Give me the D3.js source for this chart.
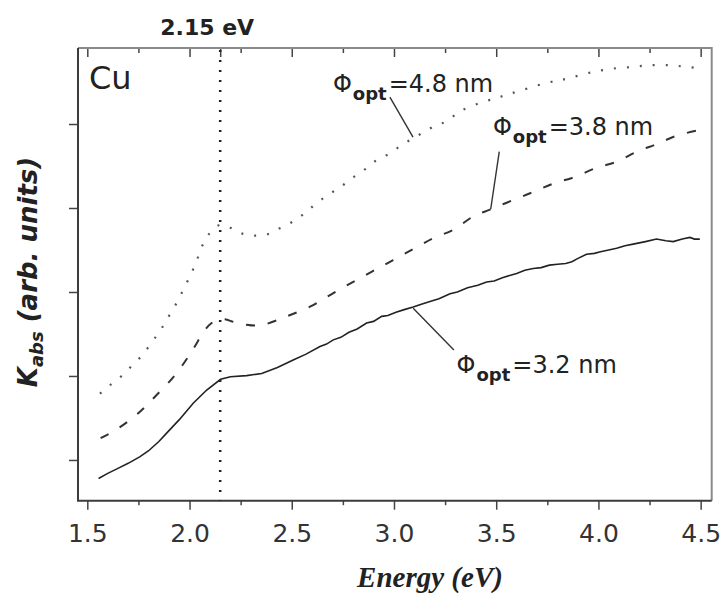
<!DOCTYPE html>
<html>
<head>
<meta charset="utf-8">
<script src="https://cdn.jsdelivr.net/npm/d3@7"></script>
<style>
  body { margin: 0; background: #fff; }
  svg { display: block; }
</style>
</head>
<body>
<svg width="723" height="593"></svg>
<script>
// energy (eV) / absorption K (arb. units)
var solidE = [1.555,1.60,1.65,1.70,1.758,1.80,1.85,1.888,1.95,2.018,2.084,2.152,2.20,2.279,2.353,2.43,2.507,2.57,2.638,2.67,2.703,2.74,2.78,2.82,2.866,2.90,2.94,2.97,3.01,3.05,3.094,3.13,3.18,3.22,3.274,3.31,3.36,3.41,3.453,3.49,3.53,3.57,3.60,3.64,3.681,3.72,3.76,3.80,3.84,3.87,3.90,3.942,3.98,4.01,4.05,4.089,4.13,4.17,4.23,4.284,4.31,4.33,4.366,4.41,4.447,4.47,4.496];
var solidK = [0.78,0.84,0.90,0.96,1.04,1.11,1.22,1.32,1.48,1.675,1.833,1.96,1.99,2.004,2.03,2.10,2.19,2.26,2.35,2.38,2.43,2.46,2.52,2.56,2.63,2.65,2.71,2.72,2.76,2.79,2.82,2.85,2.89,2.92,2.98,3.00,3.05,3.08,3.12,3.13,3.17,3.20,3.22,3.26,3.28,3.29,3.32,3.33,3.34,3.36,3.40,3.45,3.46,3.48,3.50,3.52,3.55,3.57,3.60,3.63,3.62,3.61,3.60,3.63,3.65,3.63,3.63];

var dashE = [1.565,1.644,1.749,1.839,1.929,2.010,2.076,2.108,2.14,2.173,2.22,2.279,2.33,2.377,2.475,2.589,2.685,2.785,2.89,2.996,3.10,3.192,3.29,3.388,3.469,3.583,3.681,3.779,3.885,3.991,4.089,4.187,4.284,4.382,4.496];
var dashK = [1.26,1.365,1.556,1.774,2.01,2.29,2.55,2.63,2.67,2.675,2.64,2.61,2.60,2.62,2.71,2.825,2.96,3.10,3.24,3.38,3.52,3.64,3.74,3.90,3.98,4.095,4.19,4.29,4.37,4.48,4.55,4.67,4.76,4.86,4.93];

var dotE = [1.562,1.611,1.668,1.717,1.766,1.815,1.859,1.896,1.937,1.970,2.002,2.032,2.055,2.092,2.149,2.206,2.263,2.323,2.385,2.442,2.507,2.565,2.622,2.687,2.744,2.801,2.858,2.915,2.980,3.037,3.094,3.151,3.209,3.257,3.322,3.420,3.502,3.567,3.649,3.746,3.811,3.877,3.974,4.072,4.170,4.252,4.349,4.431,4.512];
var dotK = [1.79,1.89,2.00,2.12,2.24,2.40,2.55,2.70,2.87,3.03,3.19,3.35,3.51,3.68,3.80,3.76,3.69,3.67,3.69,3.76,3.84,3.94,4.06,4.17,4.26,4.365,4.46,4.57,4.65,4.75,4.83,4.91,4.99,5.03,5.15,5.25,5.31,5.36,5.42,5.49,5.52,5.56,5.62,5.66,5.68,5.70,5.70,5.68,5.66];

var xMajor = [1.5,2.0,2.5,3.0,3.5,4.0,4.5];
var xMinor = [1.75,2.25,2.75,3.25,3.75,4.25];
var yTicks = [1,2,3,4,5];
var markerE = 2.15;

// label text, anchor (E,K) and leader line ends (E,K)
var labelSizes = ["4.8","3.8","3.2"];
var labelAt = [[2.7015,5.381],[3.484,4.869],[3.306,2.036]];
var leaderFrom = [[2.980,5.321],[3.515,4.670],[3.293,2.310]];
var leaderTo = [[3.093,4.845],[3.473,3.985],[3.094,2.806]];

var svg = d3.select("svg"),
    width = +svg.attr("width"),
    height = +svg.attr("height");
var margin = {top: 48, right: 11.3, bottom: 92.3, left: 78};

var x = d3.scaleLinear().domain([1.4545, 4.554]).range([margin.left, width - margin.right]);
var y = d3.scaleLinear().domain([0.515, 5.905]).range([height - margin.bottom, margin.top]);

var sansFont = "'DejaVu Sans', sans-serif";

function tidy(g) {
  g.select(".domain").remove();
  g.selectAll(".tick line").attr("stroke", "#444").attr("stroke-width", 1.5);
}

// bottom axis
var bottom = svg.append("g").attr("transform", "translate(0," + y.range()[0] + ")");
bottom.call(d3.axisBottom(x).tickValues(xMajor).tickSize(9).tickFormat(d3.format(".1f"))).call(tidy);
bottom.selectAll("text")
  .attr("y", 23.5)
  .style("font-family", sansFont)
  .style("font-size", "25px")
  .attr("fill", "#333");
svg.append("g").attr("transform", "translate(0," + y.range()[0] + ")")
  .call(d3.axisBottom(x).tickValues(xMinor).tickSize(4.5).tickFormat("")).call(tidy);

// top axis, ticks inward
svg.append("g").attr("transform", "translate(0," + margin.top + ")")
  .call(d3.axisTop(x).tickValues(xMajor.concat([markerE])).tickSize(-9).tickFormat("")).call(tidy);
svg.append("g").attr("transform", "translate(0," + margin.top + ")")
  .call(d3.axisTop(x).tickValues(xMinor).tickSize(-5).tickFormat("")).call(tidy);

// left axis
svg.append("g").attr("transform", "translate(" + margin.left + ",0)")
  .call(d3.axisLeft(y).tickValues(yTicks).tickSize(9).tickFormat("")).call(tidy);

// frame
svg.append("path")
  .attr("d", "M" + x.range()[0] + "," + y.range()[1] + "H" + x.range()[1] + "V" + y.range()[0])
  .attr("fill", "none").attr("stroke", "#8a8a8a").attr("stroke-width", 2);
svg.append("path")
  .attr("d", "M" + x.range()[0] + "," + y.range()[1] + "V" + y.range()[0] + "H" + x.range()[1])
  .attr("fill", "none").attr("stroke", "#3c3c3c").attr("stroke-width", 2);

// 2.15 eV marker
svg.append("line")
  .attr("x1", x(markerE)).attr("x2", x(markerE))
  .attr("y1", y.range()[1] + 2).attr("y2", y.range()[0])
  .attr("stroke", "#222").attr("stroke-width", 2.5)
  .attr("stroke-dasharray", "2,8");
svg.append("text")
  .attr("x", x(markerE) - 13).attr("y", 35)
  .attr("text-anchor", "middle")
  .style("font-family", sansFont).style("font-weight", "bold").style("font-size", "22px")
  .attr("fill", "#222")
  .text("2.15 eV");

var line = d3.line()
  .x(d => x(d[0]))
  .y(d => y(d[1]));

svg.append("path")
  .datum(solidE.map((e, i) => [e, solidK[i]]))
  .attr("d", line.curve(d3.curveLinear))
  .attr("fill", "none").attr("stroke", "#222").attr("stroke-width", 1.6);

svg.append("path")
  .datum(dashE.map((e, i) => [e, dashK[i]]))
  .attr("d", line.curve(d3.curveCatmullRom))
  .attr("fill", "none").attr("stroke", "#333").attr("stroke-width", 2)
  .attr("stroke-dasharray", "9,13");

svg.append("path")
  .datum(dotE.map((e, i) => [e, dotK[i]]))
  .attr("d", line.curve(d3.curveCatmullRom))
  .attr("fill", "none").attr("stroke", "#555").attr("stroke-width", 2.2)
  .attr("stroke-dasharray", "2,11");

// Cu
svg.append("text")
  .attr("x", 89).attr("y", 89)
  .style("font-family", sansFont).style("font-size", "32px")
  .attr("fill", "#222")
  .text("Cu");

// labels with leader lines
labelSizes.forEach(function(s, i) {
  svg.append("line")
    .attr("x1", x(leaderFrom[i][0])).attr("y1", y(leaderFrom[i][1]))
    .attr("x2", x(leaderTo[i][0])).attr("y2", y(leaderTo[i][1]))
    .attr("stroke", "#333").attr("stroke-width", 1.4);
  var t = svg.append("text")
    .attr("x", x(labelAt[i][0])).attr("y", y(labelAt[i][1]))
    .style("font-family", sansFont).style("font-size", "24px")
    .attr("fill", "#222");
  t.append("tspan").text("\u03A6");
  t.append("tspan").attr("dy", 8).attr("dx", 1)
    .style("font-size", "18px").style("font-weight", "bold").text("opt");
  t.append("tspan").attr("dy", -8).attr("dx", 2).text("=" + s + " nm");
});

// axis titles
svg.append("text")
  .attr("x", 430).attr("y", 587)
  .attr("text-anchor", "middle")
  .style("font-family", "'Liberation Serif', 'Times New Roman', serif")
  .style("font-weight", "bold").style("font-style", "italic").style("font-size", "29px")
  .attr("fill", "#222")
  .text("Energy (eV)");

var yl = svg.append("text")
  .attr("transform", "translate(37,272) rotate(-90)")
  .attr("text-anchor", "middle")
  .style("font-family", sansFont)
  .style("font-weight", "bold").style("font-style", "italic").style("font-size", "26px")
  .attr("fill", "#222");
yl.append("tspan").text("K");
yl.append("tspan").attr("dy", 6).style("font-size", "18px").text("abs");
yl.append("tspan").attr("dy", -6).text(" (arb. units)");
</script>
</body>
</html>
